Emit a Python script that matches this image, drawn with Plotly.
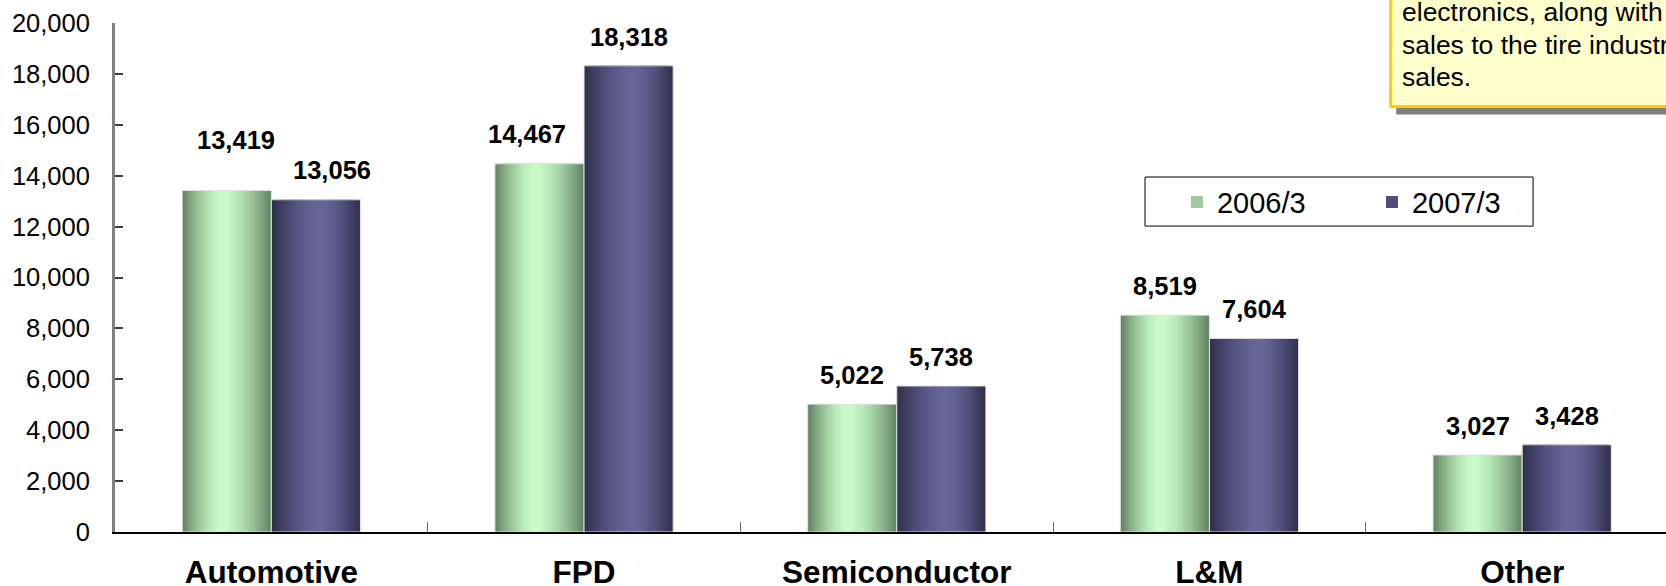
import plotly.graph_objects as go

# Sales by segment (million yen)
categories = ["Automotive", "FPD", "Semiconductor", "L&M", "Other"]
series_names = ["2006/3", "2007/3"]
sales_2006 = [13419, 14467, 5022, 8519, 3027]
sales_2007 = [13056, 18318, 5738, 7604, 3428]
y_ticks = [0, 2000, 4000, 6000, 8000, 10000, 12000, 14000, 16000, 18000, 20000]
note_lines = ["electronics, along with", "sales to the tire industry", "sales."]

FONT = "Liberation Sans, Arial, sans-serif"
BAR_W = 0.285
N_LAYERS = 28

# (dark edge colour, light centre colour, peak position within bar, offset of bar)
styles = [
    ((100, 132, 100), (200, 252, 200), 0.45, -BAR_W),
    ((48, 48, 78), (102, 102, 153), 0.55, 0.0),
]


def mix(a, b, f):
    return "rgb(%d,%d,%d)" % tuple(round(a[i] + (b[i] - a[i]) * f) for i in range(3))


fig = go.Figure()
for name, values, (dark, light, peak, off) in zip(series_names, [sales_2006, sales_2007], styles):
    legend_layer = int(N_LAYERS * 0.45)
    # nested bars shrinking toward the highlight give a cylindrical shading
    for k in range(N_LAYERS):
        s = 1 - k / N_LAYERS
        frac = 1 - (1 - k / (N_LAYERS - 1)) ** 1.5
        w = BAR_W * s
        o = off + BAR_W * peak * (1 - s)
        fig.add_trace(go.Bar(
            x=categories, y=values, width=w, offset=o,
            marker=dict(color=mix(dark, light, frac), line=dict(width=0)),
            name=name, showlegend=(k == legend_layer), legendgroup=name,
            hoverinfo="skip",
        ))
    # thin light outline around each bar
    fig.add_trace(go.Bar(
        x=categories, y=values, width=BAR_W, offset=off,
        marker=dict(color="rgba(0,0,0,0)", line=dict(width=1, color="rgb(225,225,225)")),
        showlegend=False, legendgroup=name, hoverinfo="skip",
    ))

# value labels above bars
label_shift = {(0, 0): (9, 50), (0, 1): (16, 30), (1, 0): (-12, 30)}
for si, values in enumerate([sales_2006, sales_2007]):
    for ci, v in enumerate(values):
        xs, ys = label_shift.get((ci, si), (0, 29))
        fig.add_annotation(
            x=ci + (-BAR_W / 2 if si == 0 else BAR_W / 2), y=v,
            text=f"{v:,}", showarrow=False, xanchor="center", yanchor="middle",
            xshift=xs, yshift=ys,
            font=dict(family=FONT, size=25.5, color="black", weight="bold"),
        )

# frame around the legend
fig.add_shape(type="rect", xref="paper", yref="paper",
              x0=0.6641, x1=0.9143, y0=0.601, y1=0.6974,
              fillcolor="white", line=dict(width=1, color="black"), layer="below")

# callout note in the corner
fig.add_shape(type="rect", xref="paper", yref="paper",
              x0=0.826, x1=1.2, y0=0.820, y1=1.2,
              fillcolor="rgb(128,128,128)", line=dict(width=0), layer="above")
fig.add_shape(type="rect", xref="paper", yref="paper",
              x0=0.8225, x1=1.2, y0=0.836, y1=1.2,
              fillcolor="rgb(255,255,204)", line=dict(width=3, color="rgb(255,204,0)"),
              layer="above")
for i, line in enumerate(note_lines):
    fig.add_annotation(
        xref="paper", yref="paper", x=0.8285, y=1.022 - i * 0.0645,
        xanchor="left", yanchor="middle",
        text=line, align="left", showarrow=False,
        font=dict(family=FONT, size=26.5, color="black"),
    )

fig.update_layout(
    width=1666, height=586,
    margin=dict(l=115, r=0, t=23, b=54, autoexpand=False),
    plot_bgcolor="white", paper_bgcolor="white",
    barmode="overlay",
    showlegend=True,
    legend=dict(
        orientation="h", x=0.6847, y=0.698, xanchor="left", yanchor="top",
        borderwidth=0, bgcolor="rgba(0,0,0,0)",
        font=dict(family=FONT, size=29, color="black"),
        entrywidth=150, traceorder="normal",
    ),
    xaxis=dict(
        type="category", range=[-0.5, 4.46], automargin=False,
        showline=True, linecolor="black", linewidth=2,
        ticks="inside", tickson="boundaries", ticklen=10, tickcolor="rgb(100,100,100)",
        tickfont=dict(family=FONT, size=31.5, color="black", weight="bold"),
        ticklabelstandoff=11, showgrid=False,
    ),
    yaxis=dict(
        range=[0, 20000], tickvals=y_ticks, ticktext=[f"{t:,}" for t in y_ticks],
        automargin=False,
        showline=True, linecolor="rgb(128,128,128)", linewidth=3,
        ticks="inside", ticklen=8, tickcolor="rgb(60,60,60)", tickwidth=2,
        tickfont=dict(family=FONT, size=25.5, color="black"),
        ticklabelstandoff=17, showgrid=False, zeroline=False,
    ),
)

fig.write_html("out.html")
